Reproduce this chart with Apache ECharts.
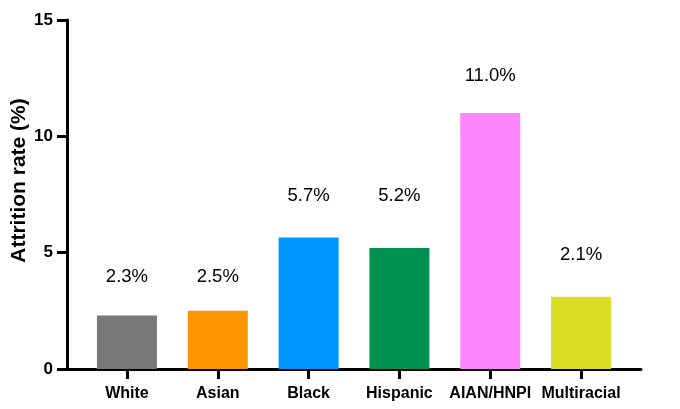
<!DOCTYPE html>
<html>
<head>
    <meta charset="utf-8" />
    <title>Attrition rate</title>
    <script src="https://cdn.jsdelivr.net/npm/echarts@6/dist/echarts.min.js"></script>
</head>
<body style="margin:0;padding:0">
    <div id="main" style="width:680px;height:409px;margin:0;padding:0"></div>
    <script type="text/javascript">
        var categories = ['White', 'Asian', 'Black', 'Hispanic', 'AIAN/HNPI', 'Multiracial'];
        var rates = [2.3, 2.5, 5.65, 5.2, 11.0, 3.1];
        var rateLabels = ['2.3%', '2.5%', '5.7%', '5.2%', '11.0%', '2.1%'];
        // height (in axis units) where each label text sits
        var labelHeights = [3.95, 3.95, 7.43, 7.43, 12.58, 4.9];
        var barColors = ['#787878', '#FF9400', '#0096FF', '#00914F', '#FF85FF', '#DADF26'];
        var yTicks = [0, 5, 10, 15];

        var font = 'Arial, "Liberation Sans", sans-serif';
        var chart = echarts.init(document.getElementById('main'));

        chart.setOption({
            animation: false,
            grid: { left: 67, right: 39, top: 20, bottom: 40, containLabel: false, outerBoundsMode: 'none' },
            xAxis: {
                type: 'value',
                min: -0.66,
                max: categories.length - 1 + 0.66,
                splitLine: { show: false },
                axisLine: { show: true, onZero: false, lineStyle: { color: '#000', width: 3 } },
                axisTick: {
                    show: true, length: 10, customValues: [0, 1, 2, 3, 4, 5],
                    lineStyle: { color: '#000', width: 3 }
                },
                axisLabel: {
                    customValues: [0, 1, 2, 3, 4, 5],
                    margin: 17,
                    color: '#000', fontFamily: font, fontWeight: 'bold', fontSize: 16,
                    formatter: function (v) { return categories[Math.round(v)]; }
                }
            },
            yAxis: {
                type: 'value',
                min: 0,
                max: 15,
                interval: 5,
                name: 'Attrition rate (%)',
                nameLocation: 'middle',
                nameGap: 37,
                nameMoveOverlap: false,
                nameTextStyle: { color: '#000', fontFamily: font, fontWeight: 'bold', fontSize: 21, padding: [0, 0, 0, 28] },
                splitLine: { show: false },
                axisLine: { show: true, onZero: false, lineStyle: { color: '#000', width: 3 } },
                axisTick: { show: true, length: 10, lineStyle: { color: '#000', width: 3 } },
                axisLabel: {
                    margin: 14,
                    color: '#000', fontFamily: font, fontWeight: 'bold', fontSize: 17,
                    formatter: function (v) { return yTicks.indexOf(v) >= 0 ? String(v) : ''; }
                }
            },
            series: [{
                type: 'bar',
                barWidth: 60,
                data: rates.map(function (v, i) {
                    return { value: [i, v], itemStyle: { color: barColors[i] } };
                })
            }, {
                type: 'scatter',
                symbolSize: 0,
                itemStyle: { color: '#000' },
                data: labelHeights.map(function (h, i) { return [i, h]; }),
                label: {
                    show: true,
                    position: 'inside',
                    color: '#000', opacity: 1, textBorderWidth: 0,
                    fontFamily: font, fontSize: 18.5,
                    formatter: function (p) { return rateLabels[p.dataIndex]; }
                }
            }]
        });
    </script>
</body>
</html>
